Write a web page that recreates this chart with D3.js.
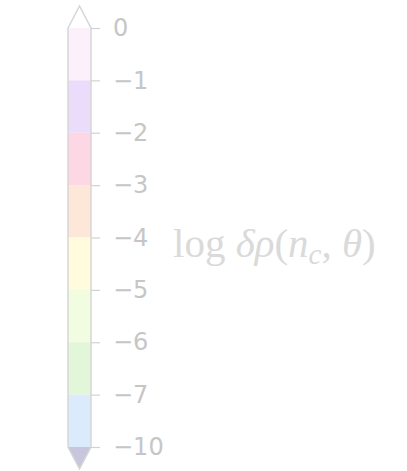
<!DOCTYPE html>
<html><head><meta charset="utf-8">
<script src="https://cdn.jsdelivr.net/npm/d3@7"></script>
<style>html,body{margin:0;padding:0;background:#fff;}svg{display:block;}</style>
</head><body>
<svg id="c" width="407" height="471"></svg>
<script>
const tickValues = [0, -1, -2, -3, -4, -5, -6, -7, -10];
const tickLabels = ["0", "\u22121", "\u22122", "\u22123", "\u22124", "\u22125", "\u22126", "\u22127", "\u221210"];
const segmentColors = ["#fcf1fa", "#ebdcfb", "#fdd7e3", "#fde7d8", "#fefcdc", "#f2fce0", "#e2f6d9", "#dbebfb"];
const extendTopColor = "#ffffff";
const extendBottomColor = "#c8c6df";

const svg = d3.select("#c");
const x0 = 68, x1 = 91, yTop = 28, yBot = 447, ext = 22;
const y = d3.scalePoint().domain(tickValues).range([yTop, yBot]);

const segs = d3.range(segmentColors.length).map(i => ({from: tickValues[i], to: tickValues[i+1], color: segmentColors[i]}));
svg.append("g").selectAll("rect").data(segs).join("rect")
  .attr("x", x0).attr("width", x1 - x0)
  .attr("y", d => y(d.from)).attr("height", d => y(d.to) - y(d.from))
  .attr("fill", d => d.color);

const xm = (x0 + x1) / 2;
svg.append("path").attr("d", `M${x0},${yTop}L${xm},${yTop-ext}L${x1},${yTop}Z`).attr("fill", extendTopColor);
svg.append("path").attr("d", `M${x0},${yBot}L${xm},${yBot+ext}L${x1},${yBot}Z`).attr("fill", extendBottomColor);

svg.append("path")
  .attr("d", `M${x0},${yTop}L${xm},${yTop-ext}L${x1},${yTop}L${x1},${yBot}L${xm},${yBot+ext}L${x0},${yBot}Z`)
  .attr("fill", "none").attr("stroke", "#d6d6d6").attr("stroke-width", 1.5);

const axis = d3.axisRight(y).tickSize(9).tickPadding(13).tickFormat((d, i) => tickLabels[i]);
const g = svg.append("g").attr("transform", `translate(${x1},0)`).call(axis);
g.select(".domain").remove();
g.selectAll(".tick line").attr("stroke", "#d2d2d2").attr("stroke-width", 1.2);
g.selectAll(".tick text").attr("fill", "#c6c6c6").attr("font-family", "DejaVu Sans").attr("font-size", 24);

const lab = svg.append("text").attr("x", 173).attr("y", 257)
  .attr("font-family", "Liberation Serif").attr("font-size", 41).attr("fill", "#dadada");
lab.append("tspan").text("log ");
lab.append("tspan").attr("font-style", "italic").text("δρ");
lab.append("tspan").text("(");
lab.append("tspan").attr("font-style", "italic").text("n");
lab.append("tspan").attr("font-style", "italic").attr("font-size", 29).attr("dy", 7).text("c");
lab.append("tspan").attr("dy", -7).text(", ");
lab.append("tspan").attr("font-style", "italic").text("θ");
lab.append("tspan").text(")");
</script>
</body></html>
